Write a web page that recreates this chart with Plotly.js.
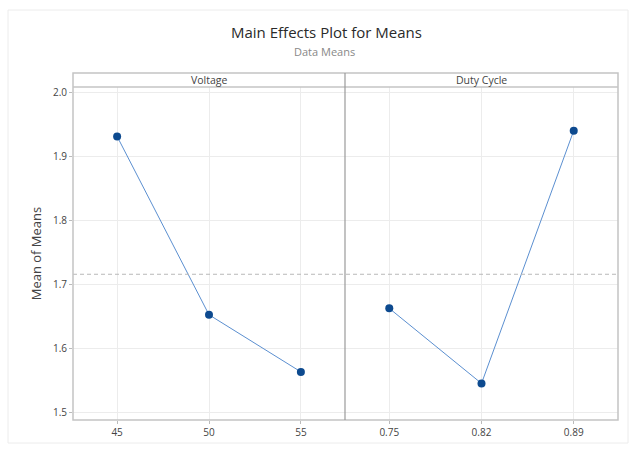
<!DOCTYPE html>
<html>
<head>
<meta charset="utf-8">
<script src="https://cdn.plot.ly/plotly-3.0.1.min.js"></script>
<style>
html,body{margin:0;padding:0;background:#fff;}
#chart{width:641px;height:452px;}
</style>
</head>
<body>
<div id="chart"></div>
<script>
// Data
const voltageLevels = ["45", "50", "55"];
const voltageMeans = [1.931, 1.653, 1.564];
const dutyLevels = ["0.75", "0.82", "0.89"];
const dutyMeans = [1.663, 1.546, 1.940];
const yTicks = [1.5, 1.6, 1.7, 1.8, 1.9, 2.0];
const yTickText = ["1.5", "1.6", "1.7", "1.8", "1.9", "2.0"];
const panelTitles = ["Voltage", "Duty Cycle"];

const allVals = voltageMeans.concat(dutyMeans);
const grandMean = allVals.reduce((a, b) => a + b, 0) / allVals.length;

const W = 641, H = 452;
const L = 73, R = 618, T = 87, B = 420;
const plotW = R - L, plotH = B - T;
const split = (345 - L) / plotW;
const stripH = 14 / plotH;

const lineColor = "#5b8fd0";
const markerColor = "#0d4a8f";
const fontFam = "'Open Sans', 'Noto Sans', 'DejaVu Sans', sans-serif";

const traceV = {
  x: voltageLevels, y: voltageMeans, xaxis: "x", yaxis: "y",
  type: "scatter", mode: "lines+markers",
  line: {color: lineColor, width: 1},
  marker: {color: markerColor, size: 8},
  hoverinfo: "x+y", showlegend: false
};
const traceD = {
  x: dutyLevels, y: dutyMeans, xaxis: "x2", yaxis: "y",
  type: "scatter", mode: "lines+markers",
  line: {color: lineColor, width: 1},
  marker: {color: markerColor, size: 8},
  hoverinfo: "x+y", showlegend: false
};

const xCommon = {
  type: "category", range: [-0.48, 2.48],
  showgrid: true, gridcolor: "#ececec", gridwidth: 1,
  zeroline: false, showline: false,
  ticks: "outside", ticklen: 3, tickcolor: "#bbb",
  tickfont: {family: fontFam, size: 10, color: "#444"},
  fixedrange: true
};

const layout = {
  width: W, height: H,
  margin: {l: L, r: W - R, t: T, b: H - B, pad: 0},
  paper_bgcolor: "#fff", plot_bgcolor: "#fff",
  showlegend: false,
  xaxis: Object.assign({}, xCommon, {domain: [0, split], anchor: "y"}),
  xaxis2: Object.assign({}, xCommon, {domain: [split, 1], anchor: "y"}),
  yaxis: {
    range: [1.489, 2.008],
    tickvals: yTicks, ticktext: yTickText,
    showgrid: true, gridcolor: "#ececec", gridwidth: 1,
    zeroline: false, showline: false,
    ticks: "outside", ticklen: 3, tickcolor: "#bbb",
    tickfont: {family: fontFam, size: 10, color: "#444"},
    title: {text: "Mean of Means", font: {family: fontFam, size: 13, color: "#444"}, standoff: 8},
    fixedrange: true
  },
  shapes: [
    // grand mean dashed line
    {type: "line", xref: "paper", yref: "y", x0: 0, x1: 1, y0: grandMean, y1: grandMean,
     line: {color: "#b8b8b8", width: 1, dash: "4px,3px"}},
    // outer panel frame including strip
    {type: "rect", xref: "paper", yref: "paper", x0: 0, x1: 1, y0: 0, y1: 1 + stripH,
     line: {color: "#c4c4c4", width: 1.5}},
    // strip bottom line
    {type: "line", xref: "paper", yref: "paper", x0: 0, x1: 1, y0: 1, y1: 1,
     line: {color: "#c4c4c4", width: 1.5}},
    // divider
    {type: "line", xref: "paper", yref: "paper", x0: split, x1: split, y0: 0, y1: 1 + stripH,
     line: {color: "#9a9a9a", width: 1.2}},
    // outer image frame
    {type: "rect", xref: "paper", yref: "paper",
     x0: (8 - L) / plotW, x1: (628 - L) / plotW,
     y0: (B - 443) / plotH, y1: (B - 10) / plotH,
     line: {color: "#ececec", width: 1}}
  ],
  annotations: [
    {text: "Main Effects Plot for Means", xref: "paper", yref: "paper",
     x: (326 - L) / plotW, y: (B - 32) / plotH, xanchor: "center", yanchor: "middle",
     showarrow: false, borderpad: 0, font: {family: fontFam, size: 15, color: "#2a2a2a"}},
    {text: "Data Means", xref: "paper", yref: "paper",
     x: (324 - L) / plotW, y: (B - 51) / plotH, xanchor: "center", yanchor: "middle",
     showarrow: false, borderpad: 0, font: {family: fontFam, size: 11, color: "#888"}},
    {text: panelTitles[0], xref: "paper", yref: "paper",
     x: split / 2, y: 1 + stripH / 2, xanchor: "center", yanchor: "middle",
     showarrow: false, font: {family: fontFam, size: 10.5, color: "#444"}},
    {text: panelTitles[1], xref: "paper", yref: "paper",
     x: (split + 1) / 2, y: 1 + stripH / 2, xanchor: "center", yanchor: "middle",
     showarrow: false, font: {family: fontFam, size: 10.5, color: "#444"}}
  ]
};

Plotly.newPlot("chart", [traceV, traceD], layout, {displayModeBar: false, staticPlot: true});
</script>
</body>
</html>
